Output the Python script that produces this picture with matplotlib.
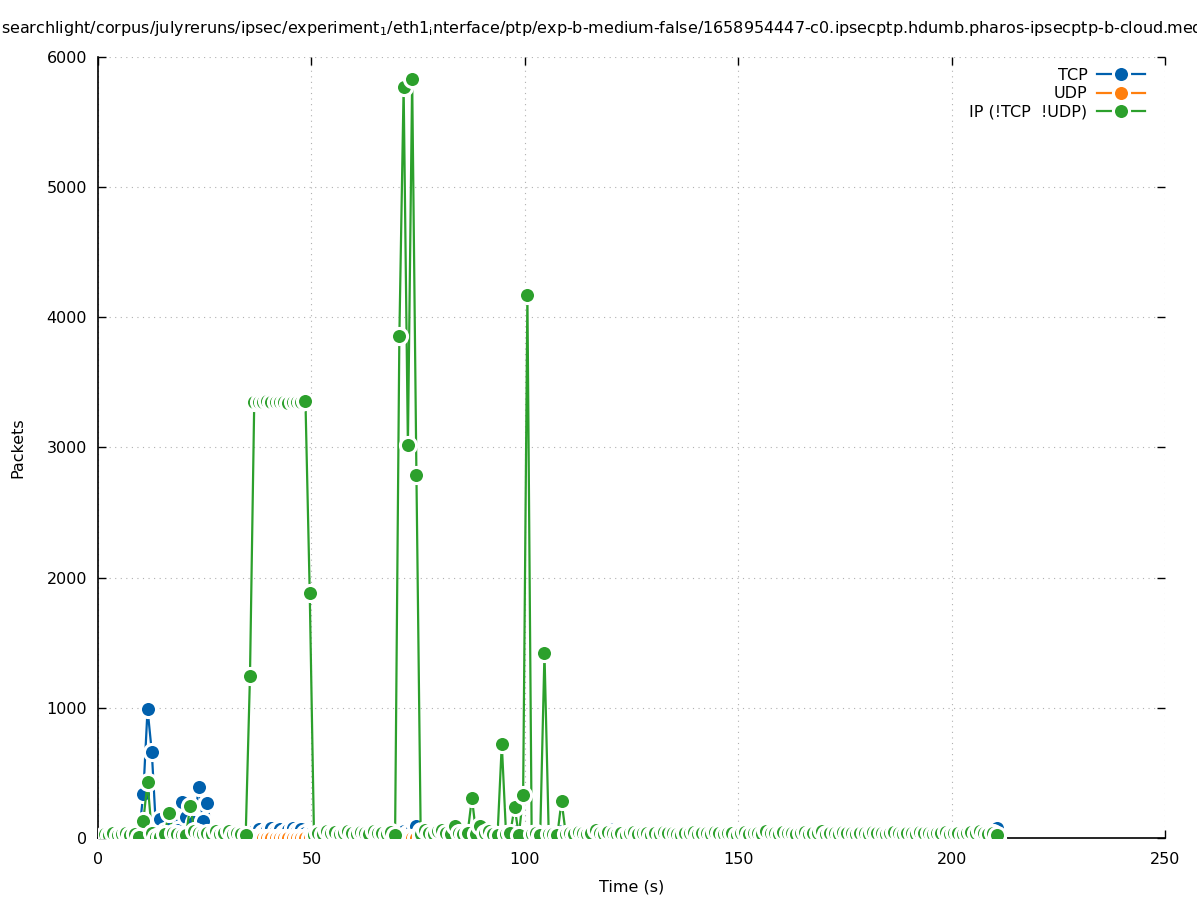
import matplotlib
matplotlib.use("Agg")
import matplotlib.pyplot as plt
import numpy as np

# one bin per second, bins centred at 1.6 s ... 210.6 s
time_s = np.arange(1.6, 211.0, 1.0)

# packets per bin
tcp_v = [10, 20, 15, 10, 20, 15, 10, 20, 30, 338,
         990, 660, 60, 146, 50, 30, 115, 60, 277, 160,
         60, 120, 392, 130, 268, 40, 20, 30, 50, 40,
         30, 60, 40, 30, 20, 50, 70, 40, 60, 80,
         50, 70, 40, 60, 80, 50, 70, 40, 30, 20,
         30, 20, 40, 30, 20, 30, 40, 20, 30, 20,
         40, 30, 20, 30, 20, 40, 30, 20, 30, 40,
         50, 40, 60, 90, 50, 40, 30, 40, 50, 30,
         40, 30, 50, 40, 30, 40, 50, 30, 40, 30,
         40, 50, 30, 40, 30, 40, 50, 30, 40, 30,
         40, 30, 50, 40, 30, 40, 30, 50, 40, 30,
         40, 30, 50, 40, 30, 60, 50, 40, 30, 70,
         50, 40, 30, 40, 50, 30, 40, 30, 50, 40,
         30, 40, 50, 30, 40, 30, 50, 40, 30, 40,
         50, 30, 40, 30, 50, 40, 30, 40, 50, 30,
         40, 30, 50, 40, 30, 40, 50, 30, 40, 30,
         50, 40, 30, 40, 50, 30, 40, 30, 50, 40,
         30, 40, 50, 30, 40, 30, 50, 40, 30, 40,
         50, 30, 40, 30, 50, 40, 30, 40, 50, 30,
         40, 30, 50, 40, 30, 40, 50, 30, 40, 30,
         50, 40, 30, 40, 50, 30, 40, 30, 50, 77]

udp_v = [0, 2, 1, 0, 3, 1, 0, 2, 1, 0,
         1, 0, 2, 1, 0, 3, 1, 2, 0, 1,
         2, 0, 1, 3, 0, 1, 2, 0, 1, 0,
         2, 1, 0, 3, 1, 0, 2, 1, 0, 2,
         1, 0, 3, 1, 0, 2, 1, 0, 2, 1,
         0, 1, 2, 0, 1, 3, 0, 1, 2, 0,
         1, 0, 2, 1, 0, 3, 1, 0, 2, 1,
         0, 2, 1, 0, 3, 1, 0, 2, 1, 0,
         1, 0, 2, 1, 0, 3, 1, 2, 0, 1,
         2, 0, 1, 3, 0, 1, 2, 0, 1, 0,
         2, 1, 0, 3, 1, 0, 2, 1, 0, 2,
         1, 0, 3, 1, 0, 2, 1, 0, 2, 1,
         0, 1, 2, 0, 1, 3, 0, 1, 2, 0,
         1, 0, 2, 1, 0, 3, 1, 0, 2, 1,
         0, 2, 1, 0, 3, 1, 0, 2, 1, 0,
         1, 0, 2, 1, 0, 3, 1, 2, 0, 1,
         2, 0, 1, 3, 0, 1, 2, 0, 1, 0,
         2, 1, 0, 3, 1, 0, 2, 1, 0, 2,
         1, 0, 3, 1, 0, 2, 1, 0, 2, 1,
         0, 1, 2, 0, 1, 3, 0, 1, 2, 0,
         1, 0, 2, 1, 0, 3, 1, 0, 2, 1]

ip_v = [30, 20, 40, 25, 30, 35, 20, 30, 10, 130,
        430, 40, 10, 5, 30, 190, 40, 30, 20, 20,
        245, 50, 40, 30, 40, 30, 50, 30, 40, 50,
        30, 40, 30, 25, 1244, 3350, 3352, 3348, 3355, 3350,
        3352, 3346, 3350, 3345, 3352, 3348, 3350, 3356, 1882, 20,
        40, 30, 50, 35, 45, 30, 40, 55, 35, 30,
        45, 40, 30, 50, 35, 40, 30, 45, 25, 3855,
        5768, 3018, 5829, 2788, 30, 60, 40, 30, 50, 60,
        40, 30, 90, 40, 30, 40, 307, 30, 90, 40,
        50, 30, 20, 722, 30, 40, 238, 20, 330, 4170,
        30, 40, 20, 1421, 30, 30, 20, 284, 30, 40,
        30, 45, 35, 30, 40, 60, 40, 30, 45, 35,
        30, 40, 25, 35, 45, 30, 40, 35, 25, 40,
        30, 45, 35, 40, 30, 25, 40, 35, 45, 30,
        40, 35, 30, 45, 40, 30, 35, 40, 25, 35,
        45, 30, 40, 35, 30, 50, 40, 35, 30, 45,
        35, 40, 30, 35, 45, 30, 40, 35, 50, 30,
        40, 35, 30, 45, 35, 40, 30, 35, 40, 30,
        45, 35, 40, 30, 35, 45, 40, 30, 35, 40,
        30, 45, 35, 40, 30, 35, 40, 45, 30, 35,
        40, 30, 35, 45, 40, 50, 35, 30, 40, 25]

series = [
    ("TCP", tcp_v, "#0060ad"),
    ("UDP", udp_v, "#ff7f0e"),
    ("IP (!TCP  !UDP)", ip_v, "#2ca02c"),
]

title = (r"searchlight/corpus/julyreruns/ipsec/experiment$_1$/eth1$_\mathrm{i}$nterface/ptp/"
         r"exp-b-medium-false/1658954447-c0.ipsecptp.hdumb.pharos-ipsecptp-b-cloud.med")

plt.rcParams['font.family'] = ['DejaVu Sans']
plt.rcParams['font.size'] = 11.5

fig = plt.figure(figsize=(11.97, 9.0), dpi=100)
ax = fig.add_axes([0.0819, 0.0689, 0.8914, 0.8678])

# white-edged dots: each point masks the one before it, like gnuplot linespoints
for i, (name, v, c) in enumerate(series):
    ax.plot(time_s, v, color=c, lw=1.6, marker='o', ms=11.6, mfc=c, mec='white',
            mew=2.2, label=name, zorder=3 + i)

ax.set_xlim(0, 250)
ax.set_ylim(0, 6000)
ax.set_xticks(range(0, 251, 50))
ax.set_yticks(range(0, 6001, 1000))
ax.grid(True, color='#b0b0b0', ls=(0, (1, 4)), lw=0.8)
ax.tick_params(direction='in', length=6, top=True, right=True, width=1)
ax.tick_params(axis='x', pad=10)
ax.tick_params(axis='y', pad=8)
for s in ['top', 'right']:
    ax.spines[s].set_visible(False)
for s in ['left', 'bottom']:
    ax.spines[s].set_linewidth(1.2)

ax.set_xlabel("Time (s)", labelpad=9)
ax.set_ylabel("Packets", labelpad=15)

ax.legend(loc='upper right', bbox_to_anchor=(1 - 20 / 1067, 1 - 11 / 781),
          markerfirst=False, frameon=False, handlelength=3.0, borderpad=0,
          borderaxespad=0, labelspacing=0.2, handletextpad=0.6)

fig.text(0.0005, 0.968, title, ha='left', va='center')

fig.savefig("out.png", dpi=100)
